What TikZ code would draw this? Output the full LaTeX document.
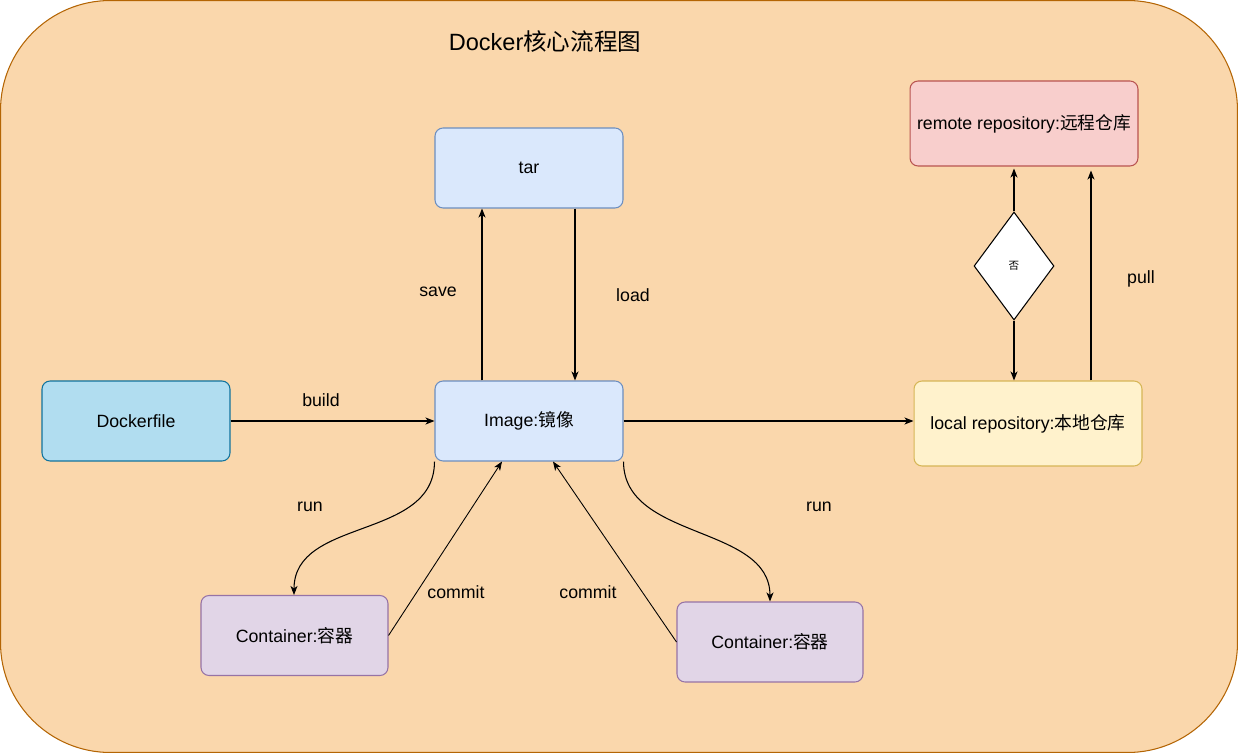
\documentclass[tikz,border=0pt]{standalone}
\usepackage{fontspec}
\setmainfont{Liberation Sans}
\newfontfamily\cjk{Noto Sans CJK SC}
\usepackage{xcolor}
\usetikzlibrary{arrows.meta, positioning, shapes.geometric, calc}
\definecolor{BgFill}{HTML}{FAD7AC}
\definecolor{BgLine}{HTML}{B46504}
\definecolor{FileFill}{HTML}{B1DDF0}
\definecolor{FileLine}{HTML}{10739E}
\definecolor{ImgFill}{HTML}{DAE8FC}
\definecolor{ImgLine}{HTML}{6C8EBF}
\definecolor{LocFill}{HTML}{FFF2CC}
\definecolor{LocLine}{HTML}{D6B656}
\definecolor{RemFill}{HTML}{F8CECC}
\definecolor{RemLine}{HTML}{B85450}
\definecolor{CtnFill}{HTML}{E1D5E7}
\definecolor{CtnLine}{HTML}{9673A6}
\tikzset{
  box/.style={rectangle, rounded corners=0.16cm, line width=0.6pt, inner sep=0pt,
    minimum width=3.76cm, minimum height=1.6cm, font=\fontsize{10.1}{12}\selectfont},
  repobox/.style={box, minimum width=4.56cm, minimum height=1.7cm},
  lbl/.style={font=\fontsize{10.1}{12}\selectfont, inner sep=1pt},
  conn/.style={line width=0.6pt, -{Stealth[length=1.8mm, width=1.4mm, inset=0.5mm]}}
}

\begin{document}
\begin{tikzpicture}[x=0.02cm, y=-0.02cm]
  \useasboundingbox (0,0) rectangle (1238,753);
  \draw[fill=BgFill, draw=BgLine, line width=0.6pt, rounded corners=2.2cm] (0.5,0.5) rectangle (1237.5,752.5);
  \node[font=\fontsize{13.4}{16}\selectfont] (title) at (545,42) {Docker{\cjk 核心流程图}};

  \node[box, fill=FileFill, draw=FileLine] (dfile) at (136,421) {Dockerfile};
  \node[box, fill=ImgFill, draw=ImgLine] (img) at (529,421) {Image:{\cjk 镜像}};
  \node[box, fill=ImgFill, draw=ImgLine] (tar) at (529,168) {tar};
  \node[repobox, fill=LocFill, draw=LocLine] (loc) at (1028,423.5) {local repository:{\cjk 本地仓库}};
  \node[repobox, fill=RemFill, draw=RemLine] (rem) at (1024,123.5) {remote repository:{\cjk 远程仓库}};
  \node[diamond, fill=white, draw=black, line width=0.6pt, inner sep=0pt,
    minimum width=1.6cm, minimum height=2.16cm, font=\fontsize{6}{7}\selectfont] (dia) at (1014,266) {\cjk 否};
  \node[box, minimum width=3.74cm, fill=CtnFill, draw=CtnLine] (ctnA) at (294.5,635.5) {Container:{\cjk 容器}};
  \node[box, minimum width=3.72cm, fill=CtnFill, draw=CtnLine] (ctnB) at (770,642) {Container:{\cjk 容器}};

  \draw[conn] (dfile) -- (img);
  \draw[conn] ([xshift=-0.94cm]img.north) -- ([xshift=-0.94cm]tar.south);
  \draw[conn] ([xshift=0.92cm]tar.south) -- ([xshift=0.92cm]img.north);
  \draw[conn] (img.east) -- (img.east -| loc.west);
  \draw[conn] (dia.south) -- (dia.south |- loc.north);
  \draw[conn] (dia.north) -- ([yshift=-0.04cm]dia.north |- rem.south);
  \draw[conn] ([xshift=1.26cm]loc.north) -- ([xshift=1.26cm,yshift=-0.08cm]loc.north |- rem.south);
  \draw[conn] (img.south west) .. controls +(0,79) and +(0,-78) .. ([xshift=-0.01cm]ctnA.north);
  \draw[conn] (img.south east) .. controls +(0,79) and +(0,-77) .. (ctnB.north);
  \draw[conn, line width=0.5pt] (ctnA.east) -- ([xshift=-0.54cm]img.south);
  \draw[conn, line width=0.5pt] (ctnB.west) -- ([xshift=0.48cm]img.south);

  \node[lbl] (lbuild) at (321,400) {build};
  \node[lbl] (lsave) at (438,292) {save};
  \node[lbl] (lload) at (633,295) {load};
  \node[lbl] (lrunA) at (310,507) {run};
  \node[lbl] (lrunB) at (819,507) {run};
  \node[lbl] (lcomA) at (456,592) {commit};
  \node[lbl] (lcomB) at (588,592) {commit};
  \node[lbl] (lpull) at (1141,279) {pull};
\end{tikzpicture}
\end{document}
